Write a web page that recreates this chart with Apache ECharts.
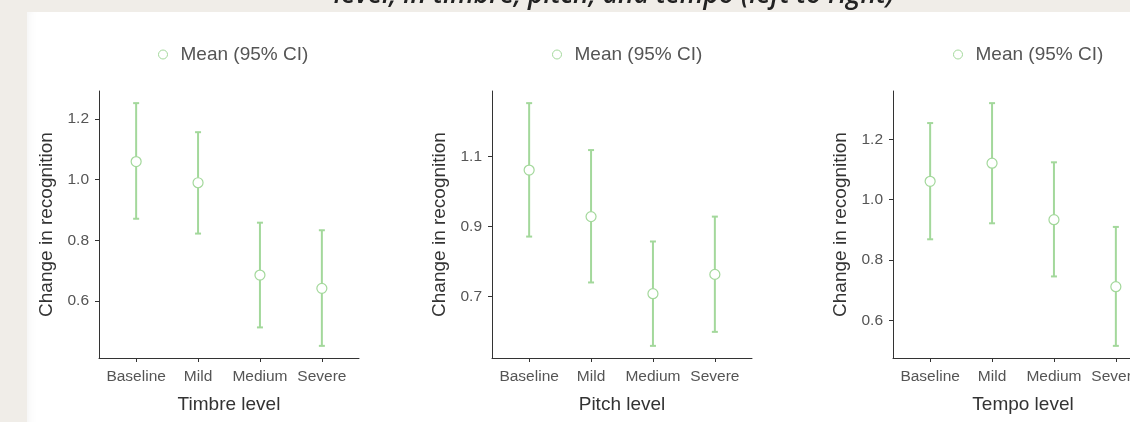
<!DOCTYPE html>
<html>
<head>
    <meta charset="utf-8">
    <title>Change in recognition by level</title>
    <script src="https://cdn.jsdelivr.net/npm/echarts@6/dist/echarts.min.js"></script>
    <style>
        html, body { margin: 0; padding: 0; overflow: hidden; background: #f0ede8; }
        #sheet { position: absolute; left: 27px; top: 12px; width: 1200px; height: 500px; background: #fff;
                 box-shadow: inset 10px 0 10px -8px rgba(0,0,0,0.05); }
        #main { position: absolute; left: 0; top: 0; width: 1200px; height: 422px; }
    </style>
</head>
<body>
    <div id="sheet"></div>
    <div id="main"></div>

    <script type="text/javascript">
        // categories on the x axis (same for all three panels)
        var levels = ['Baseline', 'Mild', 'Medium', 'Severe'];

        // timbre panel
        var timbreMean  = [1.060, 0.990, 0.685, 0.641];
        var timbreLower = [0.871, 0.822, 0.512, 0.451];
        var timbreUpper = [1.253, 1.157, 0.858, 0.833];
        var timbreTicks = [0.6, 0.8, 1.0, 1.2];

        // pitch panel
        var pitchMean  = [1.061, 0.928, 0.708, 0.763];
        var pitchLower = [0.871, 0.740, 0.559, 0.599];
        var pitchUpper = [1.252, 1.118, 0.857, 0.928];
        var pitchTicks = [0.7, 0.9, 1.1];

        // tempo panel
        var tempoMean  = [1.061, 1.121, 0.934, 0.712];
        var tempoLower = [0.869, 0.922, 0.746, 0.516];
        var tempoUpper = [1.254, 1.320, 1.124, 0.910];
        var tempoTicks = [0.6, 0.8, 1.0, 1.2];

        var green = '#a3d89b';
        var legendName = 'Mean (95% CI)';
        var font = '"Liberation Sans", Arial, sans-serif';

        var panels = [
            { name: 'Timbre level', mean: timbreMean, lower: timbreLower, upper: timbreUpper, ticks: timbreTicks, left: 99,  legendLeft: 153 },
            { name: 'Pitch level',  mean: pitchMean,  lower: pitchLower,  upper: pitchUpper,  ticks: pitchTicks,  left: 492, legendLeft: 547 },
            { name: 'Tempo level',  mean: tempoMean,  lower: tempoLower,  upper: tempoUpper,  ticks: tempoTicks,  left: 893, legendLeft: 948 }
        ];

        var grids = [], xAxes = [], yAxes = [], series = [], legends = [];

        panels.forEach(function (p, k) {
            // ggplot style 5% expansion of the data range
            var lo = Math.min.apply(null, p.lower), hi = Math.max.apply(null, p.upper);
            var pad = (hi - lo) * 0.05;

            grids.push({ left: p.left, top: 91, width: 260, height: 267 });

            xAxes.push({
                type: 'value', gridIndex: k, min: -0.6, max: 3.6,
                name: p.name, nameLocation: 'middle', nameGap: 37,
                nameTextStyle: { color: '#333', fontSize: 19, fontFamily: font },
                axisLine: { show: true, onZero: false, lineStyle: { color: '#333', width: 1 } },
                axisTick: { show: true, length: 4, customValues: [0, 1, 2, 3], lineStyle: { color: '#333' } },
                axisLabel: {
                    customValues: [0, 1, 2, 3], margin: 11,
                    color: '#555', fontSize: 15.5, fontFamily: font,
                    formatter: function (v) { return levels[Math.round(v)]; }
                },
                splitLine: { show: false }
            });

            yAxes.push({
                type: 'value', gridIndex: k, min: lo - pad, max: hi + pad,
                name: 'Change in recognition', nameLocation: 'middle', nameGap: 43,
                nameTextStyle: { color: '#333', fontSize: 19, fontFamily: font },
                axisLine: { show: true, onZero: false, lineStyle: { color: '#333', width: 1 } },
                axisTick: { show: true, length: 4, customValues: p.ticks, lineStyle: { color: '#333' } },
                axisLabel: {
                    customValues: p.ticks, margin: 10,
                    color: '#555', fontSize: 15.5, fontFamily: font,
                    formatter: function (v) { return v.toFixed(1); }
                },
                splitLine: { show: false }
            });

            series.push({
                type: 'custom', name: 'ci' + k, xAxisIndex: k, yAxisIndex: k,
                encode: { x: 0, y: [1, 2] },
                data: levels.map(function (_, i) { return [i, p.lower[i], p.upper[i]]; }),
                renderItem: function (params, api) {
                    var a = api.coord([api.value(0), api.value(1)]);
                    var b = api.coord([api.value(0), api.value(2)]);
                    var st = { stroke: green, lineWidth: 2 };
                    return {
                        type: 'group',
                        children: [
                            { type: 'line', shape: { x1: a[0], y1: a[1], x2: b[0], y2: b[1] }, style: st },
                            { type: 'line', shape: { x1: a[0] - 3, y1: a[1], x2: a[0] + 3, y2: a[1] }, style: st },
                            { type: 'line', shape: { x1: b[0] - 3, y1: b[1], x2: b[0] + 3, y2: b[1] }, style: st }
                        ]
                    };
                },
                z: 2
            });

            series.push({
                type: 'scatter', name: legendName, xAxisIndex: k, yAxisIndex: k,
                data: levels.map(function (_, i) { return [i, p.mean[i]]; }),
                symbol: 'circle', symbolSize: 10,
                itemStyle: { color: '#fff', borderColor: green, borderWidth: 1.2, opacity: 1 },
                z: 3
            });

            legends.push({
                left: p.legendLeft, top: 40,
                data: [legendName],
                icon: 'circle', itemWidth: 9, itemHeight: 9,
                itemStyle: { color: '#fff', borderColor: green, borderWidth: 1 },
                textStyle: { color: '#555', fontSize: 19, fontFamily: font, padding: [0, 0, 0, 8] },
                selectedMode: false
            });
        });

        var myChart = echarts.init(document.getElementById('main'), null, { renderer: 'canvas' });
        myChart.setOption({
            backgroundColor: 'transparent',
            animation: false,
            graphic: [{
                type: 'text', x: 614, y: -5,
                style: {
                    text: 'level, in timbre, pitch, and tempo (left to right)',
                    fill: '#222', font: 'italic 600 26.5px "Open Sans", sans-serif',
                    textAlign: 'center', textVerticalAlign: 'middle'
                }
            }],
            legend: legends,
            grid: grids,
            xAxis: xAxes,
            yAxis: yAxes,
            series: series
        });
    </script>
</body>
</html>
